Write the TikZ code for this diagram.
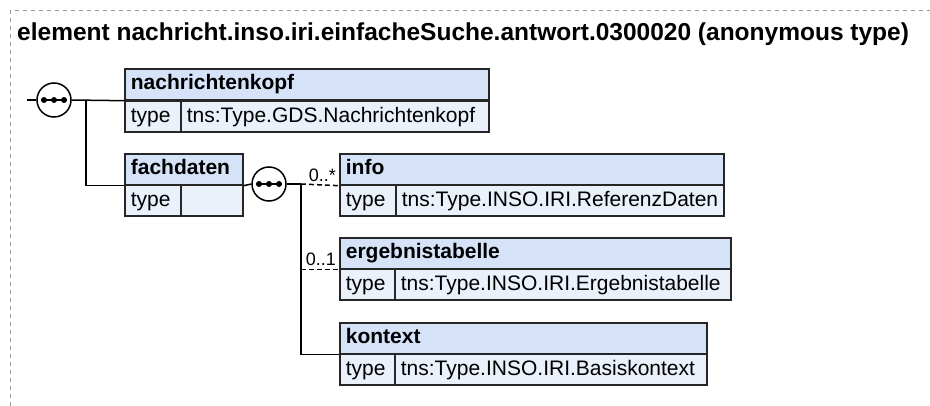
\documentclass[tikz,border=0pt]{standalone}
\usepackage{fontspec}
\setmainfont{Liberation Sans}
\usetikzlibrary{calc}
\definecolor{hdrblue}{RGB}{214,226,248}
\definecolor{rowblue}{RGB}{234,241,251}
\definecolor{framegray}{RGB}{150,150,150}
\tikzset{
  boxbase/.style={draw=black!85, line width=1.7pt, anchor=north west, inner xsep=6pt, inner ysep=0pt,
    minimum height=31pt, text height=15pt, align=left},
  hdr/.style={boxbase, fill=hdrblue, text depth=4.5pt, font=\fontsize{21}{24}\selectfont\bfseries},
  rowcell/.style={boxbase, fill=rowblue, text depth=3pt, font=\fontsize{21}{24}\selectfont},
  seq/.style={circle, draw=black, line width=1.5pt, fill=white, minimum size=34pt, inner sep=0pt},
  conn/.style={line width=1.5pt, draw=black},
  optconn/.style={conn, dashed, dash pattern=on 5pt off 3pt},
  mult/.style={anchor=base east, inner sep=0pt, font=\fontsize{18}{20}\selectfont}
}
\newcommand{\seqdots}[1]{%
  \draw[line width=1.4pt] ($(#1.center)+(-13,0)$) -- ($(#1.center)+(13,0)$);
  \fill ($(#1.center)+(-10,0)$) circle (3pt);
  \fill (#1.center) circle (3pt);
  \fill ($(#1.center)+(10,0)$) circle (3pt);
}
\begin{document}
\begin{tikzpicture}[x=1pt,y=-1pt]
\useasboundingbox (0,0) rectangle (930,406);
% frame
\draw[framegray, line width=1pt, dash pattern=on 4pt off 4pt] (10,406) -- (10,11) -- (930,11);
\node[anchor=base west, inner sep=0pt, font=\fontsize{24.5}{28}\selectfont\bfseries] (title) at (17,41)
  {element nachricht.inso.iri.einfacheSuche.antwort.0300020 (anonymous type)};

% nachrichtenkopf
\node[hdr, text width=352pt] (nk) at (124,68) {nachrichtenkopf};
\node[rowcell, text width=44pt] (nkl) at (124,100) {type};
\node[rowcell, text width=296pt] (nkv) at (180,100) {tns:Type.GDS.Nachrichtenkopf};

% fachdaten
\node[hdr, text width=106pt] (fd) at (124,153) {fachdaten};
\node[rowcell, text width=44pt] (fdl) at (124,184) {type};
\node[rowcell, text width=50pt] (fdv) at (180,184) {};

% info
\node[hdr, text width=372pt] (info) at (339,153) {info};
\node[rowcell, text width=44pt] (infol) at (339,184) {type};
\node[rowcell, text width=316pt] (infov) at (395,184) {tns:Type.INSO.IRI.ReferenzDaten};

% ergebnistabelle
\node[hdr, text width=379pt] (erg) at (339,237) {ergebnistabelle};
\node[rowcell, text width=43pt] (ergl) at (339,268) {type};
\node[rowcell, text width=324pt] (ergv) at (394,268) {tns:Type.INSO.IRI.Ergebnistabelle};

% kontext
\node[hdr, text width=355pt] (ko) at (339,322) {kontext};
\node[rowcell, text width=43pt] (kol) at (339,353) {type};
\node[rowcell, text width=300pt] (kov) at (394,353) {tns:Type.INSO.IRI.Basiskontext};

% sequence compositors
\node[seq] (s1) at (54,100) {};
\node[seq] (s2) at (269,184) {};
\seqdots{s1}
\seqdots{s2}

\coordinate (in1) at (27,100);
\coordinate (j1) at (86,100);
\coordinate (j2) at (301,184);

\draw[conn] (in1) -- (s1.west);
\draw[conn] (s1.east) -- (nk.south west);
\draw[conn] (j1) |- (fd.south west);
\draw[conn] (fd.south east) -- (s2.west);
\draw[conn] (s2.east) -- (j2);
\draw[optconn] (j2) -- (info.south west);
\draw[conn] (j2) |- (ko.south west);
\draw[optconn] (j2 |- erg.south west) -- (erg.south west);

\node[mult] (m1) at ($(info.south west)+(-3,-4)$) {0..*};
\node[mult] (m2) at ($(erg.south west)+(-3,-4)$) {0..1};
\end{tikzpicture}
\end{document}
